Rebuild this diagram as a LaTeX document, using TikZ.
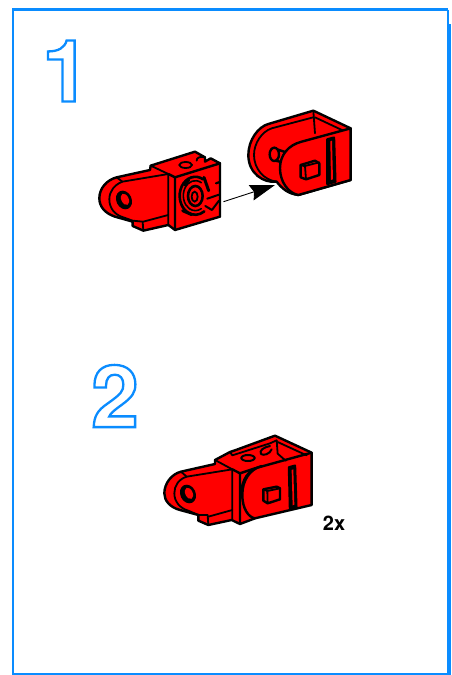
\documentclass[tikz,border=0pt]{standalone}
\usepackage{fontspec}
\setmainfont{TeX Gyre Heros}
\usetikzlibrary{arrows.meta}
\definecolor{frameblue}{RGB}{10,140,255}
\definecolor{partred}{RGB}{255,0,0}
\newcommand{\outlinedigit}[1]{\special{pdf:code q 1 Tr 2.3 w 0.04 0.55 1 RG 1 1 1 rg}#1\special{pdf:code Q}}
\tikzset{
  frameline/.style={draw=frameblue,line width=2.4pt},
  zoomed/.style 2 args={shift={(#1pt,-#2pt)},x=0.3333pt,y=-0.3333pt},
  body/.style={draw=black,fill=partred,line width=2.4pt,line join=round},
  edge/.style={draw=black,line width=1.8pt,line join=round,line cap=round},
  hole/.style={draw=black,fill=partred,line width=2.4pt},
  digit/.style={inner sep=0pt,font=\bfseries\fontsize{86}{86}\selectfont},
}
\begin{document}
\begin{tikzpicture}[x=1pt,y=-1pt]
\useasboundingbox (0,0) rectangle (451,675);
\fill[white] (0,0) rectangle (451,675);
\draw[frameline] (448,9.5) -- (13,9.5) -- (13,674) -- (451,674);
\draw[frameline] (448,9.5) -- (448,675);
\fill[frameblue] (448,24) rectangle (451,675);
\node[digit] (one) at (66,71) {\outlinedigit{1}};
\node[digit] (two) at (115,396) {\outlinedigit{2}};
\node[inner sep=0pt,font=\bfseries\fontsize{20}{20}\selectfont] (times) at (334,523) {2x};

% part A
\begin{scope}[zoomed={90}{100}]
\path[body] (80,232) -- (180,210) -- (182,197) -- (315,155) -- (345,172) -- (345,185) -- (362,175) -- (390,190) -- (390,350) -- (255,390) -- (235,375) -- (160,392) -- (128,378) -- (128,365) -- (75,350) .. controls (45,340) and (28,320) .. (28,295) .. controls (28,265) and (50,240) .. (80,232) -- cycle;
\path[edge] (80,232) -- (97,245);
\path[edge] (235,222) -- (97,245) .. controls (72,255) and (58,275) .. (58,298) .. controls (58,325) and (75,345) .. (100,352) -- (128,362) -- (158,365) -- (160,392);
\path[edge] (182,197) -- (235,222) -- (235,375);
\path[edge,line width=2.4pt] (235,222) -- (255,232) -- (255,390);
\path[edge,line width=2.4pt] (255,232) -- (390,190);
\path[edge] (160,365) -- (235,345);
\path[edge] (345,172) .. controls (335,168) and (318,172) .. (320,182);
\path[hole,line width=1.8pt] (287,195) ellipse [x radius=19,y radius=9];
% lug hole
\path[fill=black,rotate around={25:(102,300)}] (102,300) ellipse [x radius=23,y radius=29];
\path[fill=partred,rotate around={25:(105,298)}] (105,298) ellipse [x radius=11,y radius=18];
% round face
\path[edge,line width=2.6pt] (339.5,238) arc [start angle=-60,end angle=-305,x radius=47,y radius=57];
\path[edge,line width=1.6pt] (334,248) arc [start angle=-60,end angle=-300,x radius=36,y radius=45];
\path[hole,line width=2.6pt] (316,288) ellipse [x radius=22,y radius=30];
\path[hole,line width=1.8pt] (314,290) ellipse [x radius=9,y radius=15];
\path[edge,line width=3pt] (342,232) -- (356,272);
\path[edge,line width=3pt] (278,332) -- (305,344);
\path[edge,line width=3pt] (284,255) -- (296,240);
\path[edge,line width=2pt] (352,296) -- (387,284);
\path[edge,line width=2pt] (346,318) -- (366,330) -- (387,302);
\path[edge,line width=2.2pt] (378,250) -- (390,246);
\path[edge,line width=2.2pt] (390,190) -- (390,350);
\end{scope}

% part B
\begin{scope}[zoomed={230}{100}]
\path[body] (250,32) -- (362,85) -- (362,240) -- (205,285) .. controls (175,282) and (155,265) .. (140,245) .. controls (100,250) and (55,220) .. (55,165) .. controls (55,120) and (85,80) .. (115,72) -- cycle;
\path[edge] (250,52) -- (125,85) .. controls (95,95) and (72,130) .. (72,165) .. controls (72,205) and (100,240) .. (140,245);
\path[edge] (250,32) -- (255,100);
\path[edge] (255,52) -- (340,92);
\path[hole] (135,146) -- (165,156) -- (160,187) -- (135,182) -- cycle;
\path[hole] (133,163) ellipse [x radius=14,y radius=20];
\path[body] (362,85) -- (215,125) .. controls (175,135) and (150,165) .. (150,205) .. controls (150,245) and (175,280) .. (205,285) -- (362,240) -- cycle;
\path[body] (212,195) -- (255,182) -- (268,190) -- (268,225) -- (228,238) -- (212,232) -- cycle;
\path[edge] (225,198) -- (268,187);
\path[edge] (225,198) -- (228,238);
\path[edge,line width=2.2pt] (212,195) -- (225,198);
\path[body,fill=black] (292,118) -- (312,113) -- (316,245) -- (292,252) -- cycle;
\path[fill=partred] (301,124) -- (306,122) -- (309,238) -- (303,240) -- cycle;
\end{scope}

% part C
\begin{scope}[zoomed={155}{430}]
\path[body] (78,125) -- (180,102) -- (180,90) -- (225,66) -- (240,61) -- (360,17) -- (470,68) -- (470,225) -- (300,265) -- (255,282) -- (230,270) -- (160,285) -- (130,272) -- (130,255) -- (75,240) .. controls (45,232) and (28,212) .. (28,190) .. controls (28,160) and (50,132) .. (78,125) -- cycle;
\path[edge] (78,125) -- (95,140);
\path[edge] (232,118) -- (95,140) .. controls (70,148) and (58,168) .. (58,190) .. controls (58,215) and (75,235) .. (100,242) -- (130,255) -- (158,255) -- (160,285);
\path[edge] (160,260) -- (232,240);
\path[edge] (180,90) -- (232,118) -- (232,270);
\path[edge,line width=2.4pt] (232,118) -- (255,130) -- (255,282);
\path[edge,line width=2.4pt] (255,130) -- (300,115) -- (470,68);
% open top of the clevis
\path[edge] (225,66) -- (232,76) -- (345,40) -- (365,31);
\path[edge] (365,31) -- (368,71) -- (392,92);
\path[edge] (368,36) -- (455,76);
\path[hole,line width=2pt] (279,84) ellipse [x radius=20,y radius=9];
\path[edge,line width=2pt] (345,48) .. controls (325,52) and (312,62) .. (318,72) .. controls (325,78) and (345,72) .. (350,58);
% lug hole
\path[fill=black,rotate around={25:(99,192)}] (99,192) ellipse [x radius=23,y radius=29];
\path[fill=partred,rotate around={25:(102,190)}] (102,190) ellipse [x radius=11,y radius=18];
% round plate
\path[edge,line width=2.4pt] (320,108) .. controls (285,118) and (262,150) .. (262,195) .. controls (262,235) and (280,262) .. (300,265);
\path[edge] (305,113) .. controls (270,125) and (255,165) .. (258,205);
\path[body] (325,178) -- (365,170) -- (375,175) -- (375,208) -- (338,220) -- (325,212) -- cycle;
\path[edge] (337,183) -- (375,175);
\path[edge] (337,183) -- (338,220);
\path[edge] (325,178) -- (337,183);
\path[body,fill=black] (402,112) -- (420,107) -- (424,230) -- (405,236) -- cycle;
\path[fill=partred] (410,120) -- (415,118) -- (418,224) -- (413,226) -- cycle;
\end{scope}

% arrow
\coordinate (arrowstart) at (223.5,201.7);
\coordinate (arrowend) at (275,185);
\draw[line width=.9pt,-{Stealth[length=25pt,width=16pt,inset=3pt]}] (arrowstart) -- (arrowend);
\end{tikzpicture}
\end{document}
